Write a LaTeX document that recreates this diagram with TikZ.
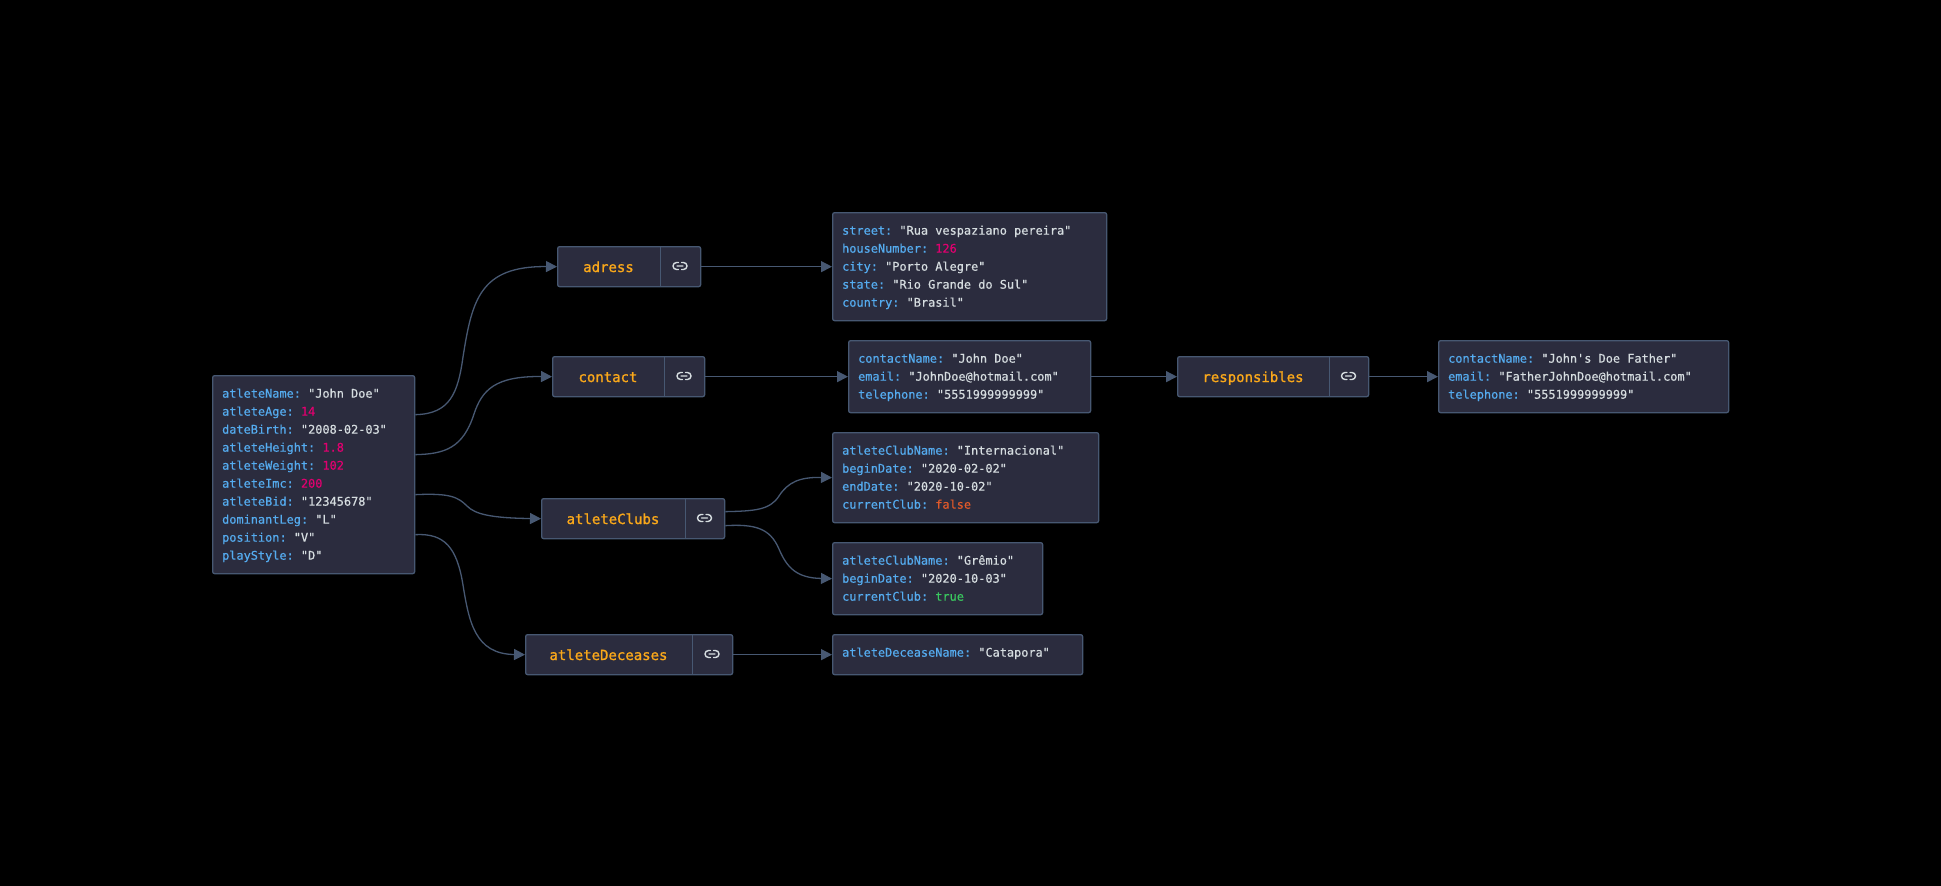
\documentclass[tikz,border=0pt]{standalone}
\usepackage{fontspec}
\usepackage{xcolor}
\usetikzlibrary{arrows.meta}
\newfontfamily\boxfont[FakeBold=0.5]{DejaVu Sans Mono}
\newfontfamily\labelfont[FakeBold=1.2]{DejaVu Sans Mono}
\definecolor{canvas}{HTML}{000000}
\definecolor{node-fill}{HTML}{2B2C3E}
\definecolor{node-line}{HTML}{475872}
\definecolor{key-blue}{HTML}{55ACF0}
\definecolor{value-white}{HTML}{D6DDE0}
\definecolor{number-pink}{HTML}{E0006F}
\definecolor{false-red}{HTML}{E0592A}
\definecolor{true-green}{HTML}{3AC95F}
\definecolor{parent-gold}{HTML}{FAA81A}
\newcommand{\kv}[3][value-white]{\rule[-5pt]{0pt}{18pt}\textcolor{key-blue}{#2:} \textcolor{#1}{#3}}
\tikzset{
  databox/.style={draw=node-line, fill=node-fill, line width=1.3pt, rounded corners=2pt,
    anchor=north west, align=flush left, inner xsep=9.5pt, inner ysep=9pt, text width=#1,
    font=\boxfont\fontsize{11.9}{18}\selectfont\frenchspacing},
  keybox/.style={draw=node-line, fill=node-fill, line width=1.3pt, rounded corners=2pt,
    anchor=north west, minimum height=40pt, inner sep=0pt},
  keylabel/.style={anchor=base, inner sep=0pt, text=parent-gold,
    font=\labelfont\fontsize{14}{16}\selectfont},
  divider/.style={node-line, line width=0.7pt},
  edge/.style={node-line, line width=1.3pt, -{Triangle[length=11pt,width=11pt]}},
  linkicon/.pic={
    \draw[value-white, line width=1.4pt, line cap=round]
      (-1.5,-3.5) -- (-3.5,-3.5) arc[start angle=270, end angle=90, radius=3.5]
      -- (-1.5,3.5) (1.5,-3.5) -- (3.5,-3.5) arc[start angle=-90, end angle=90, radius=3.5]
      -- (1.5,3.5) (-3,0) -- (3,0);
  }
}
\newcommand{\keynode}[6]{
  \node[keybox, minimum width=#4] (#1) at (#2,#3) {};
  \draw[divider] ([xshift=#5]#1.north west) -- ([xshift=#5]#1.south west);
  \node[keylabel] (#1-label) at ([xshift=#5/2, yshift=-26]#1.north west) {#6};
  \pic at ([xshift=#5/2+#4/2, yshift=-20]#1.north west) {linkicon};
}
\begin{document}
\begin{tikzpicture}[x=1pt, y=-1pt]
  \fill[canvas] (0,0) rectangle (1941,886);
  \useasboundingbox (0,0) rectangle (1941,886);
  \node[databox=183pt] (atlete) at (212,375) {%
    \kv{atleteName}{"John Doe"}\\
    \kv[number-pink]{atleteAge}{14}\\
    \kv{dateBirth}{"2008-02-03"}\\
    \kv[number-pink]{atleteHeight}{1.8}\\
    \kv[number-pink]{atleteWeight}{102}\\
    \kv[number-pink]{atleteImc}{200}\\
    \kv{atleteBid}{"12345678"}\\
    \kv{dominantLeg}{"L"}\\
    \kv{position}{"V"}\\
    \kv{playStyle}{"D"}};
  \keynode{adress}{557}{246}{143}{103}{adress}
  \keynode{contact}{552}{356}{152}{112}{contact}
  \keynode{responsibles}{1177}{356}{191}{152}{responsibles}
  \keynode{clubs}{541}{498}{183}{144}{atleteClubs}
  \keynode{deceases}{525}{634}{207}{167}{atleteDeceases}
  \node[databox=255pt] (address-data) at (832,212) {%
    \kv{street}{"Rua vespaziano pereira"}\\
    \kv[number-pink]{houseNumber}{126}\\
    \kv{city}{"Porto Alegre"}\\
    \kv{state}{"Rio Grande do Sul"}\\
    \kv{country}{"Brasil"}};
  \node[databox=223pt] (contact-data) at (848,340) {%
    \kv{contactName}{"John Doe"}\\
    \kv{email}{"JohnDoe@hotmail.com"}\\
    \kv{telephone}{"5551999999999"}};
  \node[databox=271pt] (father-data) at (1438,340) {%
    \kv{contactName}{"John's Doe Father"}\\
    \kv{email}{"FatherJohnDoe@hotmail.com"}\\
    \kv{telephone}{"5551999999999"}};
  \node[databox=247pt] (club-one) at (832,432) {%
    \kv{atleteClubName}{"Internacional"}\\
    \kv{beginDate}{"2020-02-02"}\\
    \kv{endDate}{"2020-10-02"}\\
    \kv[false-red]{currentClub}{false}};
  \node[databox=191pt] (club-two) at (832,542) {%
    \kv{atleteClubName}{"Grêmio"}\\
    \kv{beginDate}{"2020-10-03"}\\
    \kv[true-green]{currentClub}{true}};
  \node[databox=231pt] (deceases-data) at (832,634) {%
    \kv{atleteDeceaseName}{"Catapora"}\rule[-9pt]{0pt}{1pt}};
  \draw[edge] ([yshift=60]atlete.east) .. controls (450,414) and (458,393) .. (463,357)
    .. controls (472,300) and (480,266) .. (adress.west);
  \draw[edge] ([yshift=20]atlete.east) .. controls (445,454) and (463,448) .. (474,414)
    .. controls (482,390) and (495,376) .. (contact.west);
  \draw[edge] ([yshift=-20]atlete.east) .. controls (450,493) and (458,497) .. (467,506)
    .. controls (475,514) and (490,518) .. (clubs.west);
  \draw[edge] ([yshift=-60]atlete.east) .. controls (445,533) and (457,548) .. (463,585)
    .. controls (469,622) and (475,654) .. (deceases.west);
  \draw[edge] ([yshift=7]clubs.east) .. controls (755,511) and (770,510) .. (779,496)
    .. controls (788,482) and (800,477) .. (club-one.west);
  \draw[edge] ([yshift=-7]clubs.east) .. controls (755,524) and (770,528) .. (779,549)
    .. controls (787,568) and (797,578) .. (club-two.west);
  \draw[edge] (adress.east) -- (address-data.west);
  \draw[edge] (contact.east) -- (contact-data.west);
  \draw[edge] (contact-data.east) -- (responsibles.west);
  \draw[edge] (responsibles.east) -- (father-data.west);
  \draw[edge] (deceases.east) -- (deceases-data.west);
\end{tikzpicture}
\end{document}
